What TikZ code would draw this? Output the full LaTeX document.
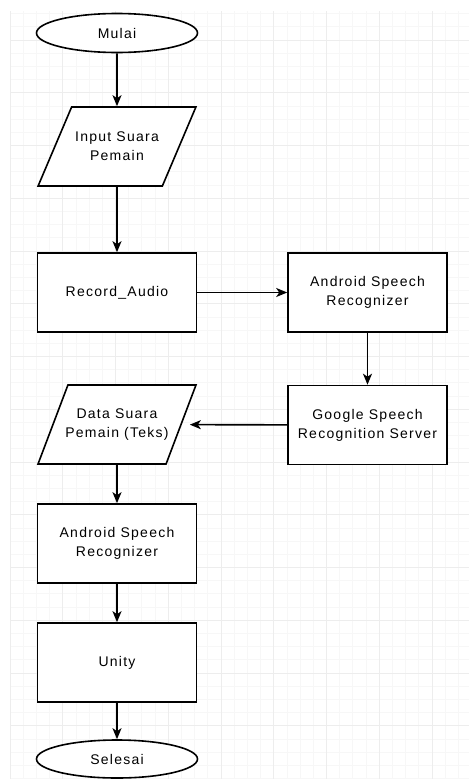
\documentclass[tikz,border=0pt]{standalone}
\usepackage{fontspec}
\setmainfont{Liberation Sans}[LetterSpace=9]
\usetikzlibrary{shapes.geometric,arrows.meta}
\tikzset{
  minorline/.style={gray!6, line width=0.8pt},
  majorline/.style={gray!14, line width=1pt},
  flowbox/.style={draw, line width=1.6pt, fill=white, align=center, minimum width=159pt, minimum height=79pt},
  terminal/.style={flowbox, ellipse, minimum width=161pt, minimum height=39pt},
  iobox/.style={flowbox, trapezium, trapezium left angle=69, trapezium right angle=111, trapezium stretches=true, minimum width=158pt, inner xsep=-4pt, inner ysep=22pt},
  flowarrow/.style={-{Stealth[length=11pt,width=9pt,inset=3pt]}, line width=1.6pt}
}
\begin{document}
\begin{tikzpicture}[x=1pt, y=-1pt, font=\fontsize{14}{19}\selectfont]
\useasboundingbox (0,0) rectangle (469,779);
\foreach \i in {0,...,34} \draw[minorline] ({10+\i*13.1875},11) -- ({10+\i*13.1875},779);
\foreach \j in {0,...,58} \draw[minorline] (10,{13.6+\j*13.1875}) -- (469,{13.6+\j*13.1875});
\foreach \i in {0,...,8} \draw[majorline] ({10+\i*52.75},11) -- ({10+\i*52.75},779);
\foreach \j in {0,...,13} \draw[majorline] (10,{40+\j*52.75}) -- (469,{40+\j*52.75});
\node[terminal] (mulai) at (117,33) {Mulai};
\node[iobox] (input) at (117,146.5) {Input Suara\\Pemain};
\node[flowbox] (record) at (117,292.5) {Record\_Audio};
\node[flowbox] (android) at (367.5,292.5) {Android Speech\\Recognizer};
\node[flowbox] (google) at (367.5,425) {Google Speech\\Recognition Server};
\node[iobox] (data) at (117,424.5) {Data Suara\\Pemain (Teks)};
\node[flowbox] (recognizer) at (117,543.5) {Android Speech\\Recognizer};
\node[flowbox] (unity) at (117,662.5) {Unity};
\node[terminal, minimum height=38pt] (selesai) at (117,759) {Selesai};
\draw[flowarrow] (mulai) -- (input);
\draw[flowarrow] (input) -- (record);
\draw[flowarrow] (record) -- (android);
\draw[flowarrow] (android) -- (google);
\draw[flowarrow, shorten >=8pt] (google) -- (data);
\draw[flowarrow] (data) -- (recognizer);
\draw[flowarrow] (recognizer) -- (unity);
\draw[flowarrow] (unity) -- (selesai);
\end{tikzpicture}
\end{document}
